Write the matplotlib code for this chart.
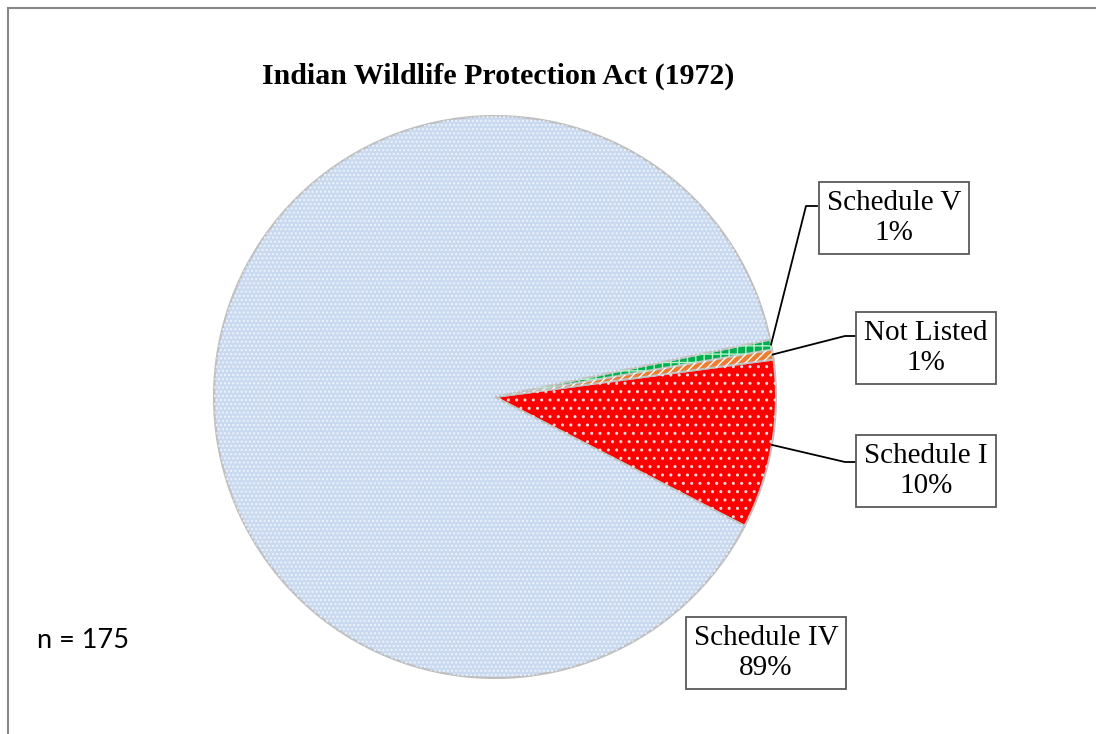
import numpy as np
import matplotlib
matplotlib.use("Agg")
import matplotlib.pyplot as plt
from matplotlib.patches import Rectangle, Wedge

# data (counts, n = 175)
labels = ["Schedule I", "Not Listed", "Schedule V", "Schedule IV"]
counts = [17, 1, 1, 156]
colors = ["#ff0000", "#ed7d31", "#00b050", "#c9d9ef"]
hatches = ["..", "////", "++", "...."]
hatch_colors = ["#ffd9d9", "white", "#b8f0cc", "#eef3fb"]
pcts = ["10%", "1%", "1%", "89%"]

# label box centres (pixels, top-left origin) and leader elbows
box_xy = [(926, 471), (926, 348), (894, 218), (766, 653)]
elbows = [(845, 462), (845, 336), (806, 206), None]

W, H = 1096, 734
fig = plt.figure(figsize=(W / 100, H / 100), dpi=100)
ax = fig.add_axes([0, 0, 1, 1])

cx, cy, r = 495, H - 397, 281
start = -27.3

wedges, _ = ax.pie(counts, colors=colors, startangle=start, counterclock=True,
                   center=(cx, cy), radius=r,
                   wedgeprops=dict(edgecolor="#bfbfbf", linewidth=1.5))
for w, hc, hc_col in zip(wedges, hatches, hatch_colors):
    ax.add_patch(Wedge(w.center, w.r, w.theta1, w.theta2,
                       facecolor="none", edgecolor=hc_col,
                       hatch=hc, linewidth=0))
    w.set_zorder(1)

ax.set_xlim(0, W)
ax.set_ylim(0, H)
ax.set_aspect("auto")
ax.axis("off")

# labels with leader lines
for w, lab, pct, (bx, by), el in zip(wedges, labels, pcts, box_xy, elbows):
    ax.text(bx, H - by, lab + "\n" + pct, ha="center", va="center",
            family="Liberation Serif", fontsize=21, linespacing=1.2,
            bbox=dict(boxstyle="square,pad=0.28", fc="white", ec="#595959", lw=1.3),
            zorder=5)
    if el is not None:
        mid = np.deg2rad((w.theta1 + w.theta2) / 2)
        px = cx + r * np.cos(mid)
        py = cy + r * np.sin(mid)
        ax.plot([px, el[0], el[0] + 11], [py, H - el[1], H - el[1]],
                color="black", lw=1.3, zorder=4)

ax.text(498, H - 76, "Indian Wildlife Protection Act (1972)", ha="center",
        va="center", family="Liberation Serif", fontweight="bold", fontsize=21.5)
ax.text(37, H - 640, "n = 175", ha="left", va="center", family="Lato",
        fontsize=19.5)

# chart frame (right and bottom sides fall outside the image)
ax.add_patch(Rectangle((7.5, -20), W + 20, H - 7.5 + 20, fill=False, ec="#868686",
                       lw=1.5, clip_on=False))

fig.savefig("out.png", dpi=100)
